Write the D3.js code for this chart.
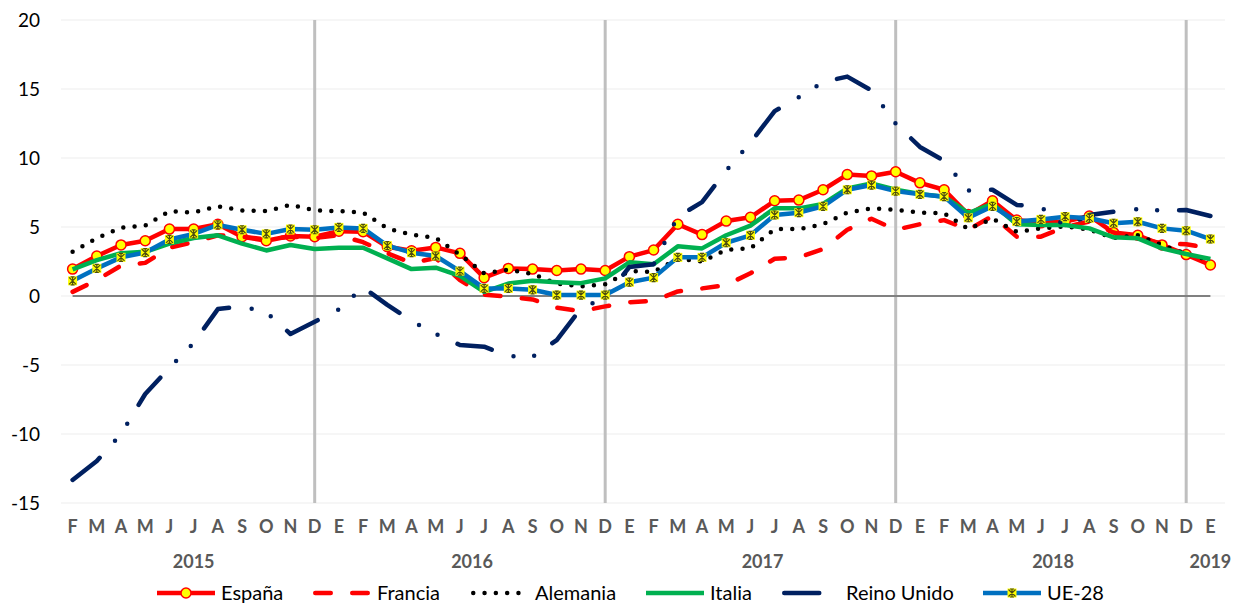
<!DOCTYPE html>
<html>
<head>
<meta charset="utf-8">
<title>Comparativa</title>
<script src="https://cdn.jsdelivr.net/npm/d3@7"></script>
<style>
  body { margin: 0; background: #fff; }
  svg text { font-family: Lato, "Open Sans", sans-serif; }
</style>
</head>
<body>
<div id="chart"></div>
<script>
// month letters, Feb 2015 .. Jan 2019
var months = ["F","M","A","M","J","J","A","S","O","N","D",
  "E","F","M","A","M","J","J","A","S","O","N","D",
  "E","F","M","A","M","J","J","A","S","O","N","D",
  "E","F","M","A","M","J","J","A","S","O","N","D",
  "E"];
var years = ["2015","2016","2017","2018","2019"];
var yTicks = [-15,-10,-5,0,5,10,15,20];

var espana = [1.95,2.9,3.7,4.0,4.85,4.85,5.2,4.3,4.0,4.35,4.3,
  4.7,4.66,3.57,3.28,3.52,3.09,1.33,2.0,1.95,1.85,1.95,1.85,
  2.85,3.33,5.2,4.45,5.43,5.7,6.9,6.95,7.7,8.8,8.7,9.0,
  8.2,7.7,5.9,6.9,5.5,5.3,5.4,5.8,4.6,4.4,3.7,3.0,
  2.25];
var francia = [0.3,1.15,2.2,2.4,3.5,3.9,4.4,4.3,4.1,4.3,4.2,
  4.4,3.9,3.1,2.4,2.75,1.15,0.1,-0.05,-0.25,-0.85,-1.1,-0.75,
  -0.45,-0.35,0.33,0.55,0.8,1.65,2.7,2.8,3.4,4.8,5.6,4.8,
  5.2,5.5,4.8,5.8,4.3,4.3,5.0,5.4,4.6,4.2,3.8,3.75,
  3.45];
var alemania = [3.2,4.2,4.95,5.1,6.15,6.05,6.5,6.2,6.15,6.6,6.2,
  6.15,6.05,4.9,4.45,4.2,3.0,1.65,1.9,1.6,0.9,0.7,0.85,
  1.8,1.75,2.7,2.5,3.35,3.45,4.85,4.85,5.2,6.05,6.35,6.25,
  6.05,6.0,4.85,5.6,4.65,4.9,5.05,4.8,4.2,4.4,3.7,3.05,
  2.6];
var italia = [1.93,2.6,3.1,3.2,3.8,4.2,4.4,3.8,3.3,3.7,3.4,
  3.5,3.5,2.73,1.95,2.05,1.45,0.3,0.9,1.1,1.0,0.93,1.28,
  2.44,2.3,3.6,3.45,4.4,5.1,6.35,6.35,6.67,7.8,8.15,7.7,
  7.4,7.2,6.0,6.67,5.2,5.15,5.15,4.9,4.25,4.18,3.45,3.04,
  2.68];
var reinoUnido = [-13.33,-11.96,-10.0,-7.1,-5.2,-3.4,-0.95,-0.75,-1.18,-2.75,-1.86,
  -0.97,0.63,-0.64,-1.8,-2.75,-3.55,-3.67,-4.35,-4.4,-3.2,-0.9,-0.1,
  2.1,2.3,5.75,6.8,9.1,11.1,13.4,14.4,15.5,15.9,14.9,12.5,
  10.8,9.8,7.65,7.7,6.6,6.45,5.07,5.87,6.1,6.3,6.2,6.23,
  5.8];
var ue28 = [1.1,2.0,2.8,3.15,4.1,4.5,5.15,4.8,4.5,4.85,4.8,
  4.97,4.9,3.65,3.14,2.9,1.8,0.55,0.55,0.45,0.07,0.07,0.07,
  1.0,1.33,2.8,2.8,3.86,4.4,5.87,6.04,6.5,7.7,8.04,7.6,
  7.37,7.2,5.67,6.5,5.4,5.55,5.75,5.63,5.27,5.38,4.9,4.73,
  4.13];

var series = [
  {name:"España", values:espana, color:"#ff0000", dash:null, marker:"circle"},
  {name:"Francia", values:francia, color:"#ff0000", dash:"15.5,21.5", marker:null},
  {name:"Alemania", values:alemania, color:"#000000", dash:"0,11.3", marker:null},
  {name:"Italia", values:italia, color:"#00b050", dash:null, marker:null},
  {name:"Reino Unido", values:reinoUnido, color:"#002060", dash:"35,23,0,21,0,22", marker:null},
  {name:"UE-28", values:ue28, color:"#0070c0", dash:null, marker:"star"}
];

var width = 1245, height = 610;
var svg = d3.select("#chart").append("svg")
  .attr("width", width).attr("height", height);

var x = d3.scaleBand().domain(d3.range(months.length)).range([60.5, 1222.5]);
var cx = function(i) { return x(i) + x.bandwidth() / 2; };
var y = d3.scaleLinear().domain([-15, 20]).range([503, 20]);

// horizontal grid
svg.append("g").selectAll("line").data(yTicks).enter().append("line")
  .attr("x1", 61).attr("x2", 1225)
  .attr("y1", function(d) { return y(d); }).attr("y2", function(d) { return y(d); })
  .attr("stroke", "#ededed").attr("stroke-width", 1);

// y labels
svg.append("g").selectAll("text").data(yTicks).enter().append("text")
  .attr("x", 40).attr("y", function(d) { return y(d); }).attr("dy", "0.36em")
  .attr("text-anchor", "end").attr("font-size", 19).attr("fill", "#000")
  .text(function(d) { return d; });

// vertical separators at December
var decs = d3.range(months.length).filter(function(i) { return months[i] === "D"; });
svg.append("g").selectAll("line").data(decs).enter().append("line")
  .attr("x1", cx).attr("x2", cx)
  .attr("y1", y(20)).attr("y2", y(-15))
  .attr("stroke", "#bfbfbf").attr("stroke-width", 3);

// zero line
svg.append("line")
  .attr("x1", cx(0)).attr("x2", cx(months.length - 1))
  .attr("y1", y(0)).attr("y2", y(0))
  .attr("stroke", "#808080").attr("stroke-width", 2);

// month letters
svg.append("g").selectAll("text").data(months).enter().append("text")
  .attr("x", function(d, i) { return cx(i); }).attr("y", 533)
  .attr("text-anchor", "middle").attr("font-size", 18).attr("font-weight", "bold")
  .attr("fill", "#595959").text(function(d) { return d; });

// year labels centred over their months
var groups = [], start = 0;
months.forEach(function(m, i) {
  if (m === "E" && i > 0) { groups.push([start, i - 1]); start = i; }
});
groups.push([start, months.length - 1]);
svg.append("g").selectAll("text").data(years).enter().append("text")
  .attr("x", function(d, k) { return (cx(groups[k][0]) + cx(groups[k][1])) / 2; })
  .attr("y", 568).attr("text-anchor", "middle").attr("font-size", 18)
  .attr("font-weight", "bold").attr("fill", "#595959")
  .text(function(d) { return d; });

var line = d3.line()
  .x(function(d, i) { return cx(i); })
  .y(function(d) { return y(d); });

function drawMarker(g, type) {
  if (type === "circle") {
    g.append("circle").attr("r", 5).attr("fill", "#ffff00")
      .attr("stroke", "#ff0000").attr("stroke-width", 1.5);
  } else if (type === "star") {
    g.append("rect").attr("x", -4.5).attr("y", -4.5).attr("width", 9).attr("height", 9)
      .attr("fill", "#ffff00");
    g.append("path")
      .attr("d", "M-3.5,-3.5L3.5,3.5M3.5,-3.5L-3.5,3.5M0,-4L0,4M-2,-4L2,-4M-2,4L2,4")
      .attr("stroke", "#4d4d10").attr("stroke-width", 1.2).attr("fill", "none");
  }
}

series.forEach(function(s) {
  var g = svg.append("g");
  g.append("path").datum(s.values)
    .attr("d", line)
    .attr("fill", "none")
    .attr("stroke", s.color)
    .attr("stroke-width", 4.5)
    .attr("stroke-linejoin", "round")
    .attr("stroke-linecap", s.dash ? "round" : "butt")
    .attr("stroke-dasharray", s.dash);
  if (s.marker) {
    g.selectAll("g.m").data(s.values).enter().append("g").attr("class", "m")
      .attr("transform", function(d, i) { return "translate(" + cx(i) + "," + y(d) + ")"; })
      .each(function() { drawMarker(d3.select(this), s.marker); });
  }
});

// legend
var legendX = [157, 313, 471, 646, 782, 983];
var legY = 593;
series.forEach(function(s, k) {
  var lx = legendX[k];
  var g = svg.append("g");
  var x0 = lx, x1 = lx + 58;
  if (s.dash) { x0 = lx + 2.25; x1 = lx + 56; }
  g.append("line").attr("x1", x0).attr("x2", x1).attr("y1", legY).attr("y2", legY)
    .attr("stroke", s.color).attr("stroke-width", 4.5)
    .attr("stroke-linecap", s.dash ? "round" : "butt")
    .attr("stroke-dasharray", s.dash);
  if (s.marker) {
    drawMarker(g.append("g").attr("transform", "translate(" + (lx + 29) + "," + legY + ")"), s.marker);
  }
  g.append("text").attr("x", lx + 64).attr("y", legY).attr("dy", "0.36em")
    .attr("font-size", 20).attr("fill", "#000").text(s.name);
});
</script>
</body>
</html>
